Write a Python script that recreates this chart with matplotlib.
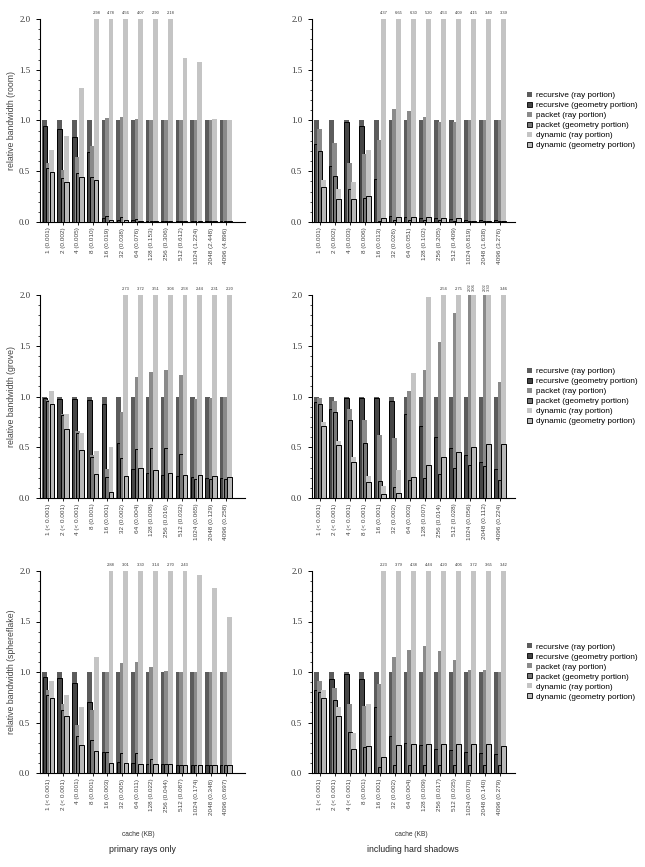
import matplotlib
matplotlib.use("Agg")
import matplotlib.pyplot as plt
from matplotlib.patches import Patch
from matplotlib.ticker import MultipleLocator, FormatStrFormatter

# ---------------- data ----------------
room_p_labels = ["1 (0.001)", "2 (0.002)", "4 (0.005)", "8 (0.010)", "16 (0.019)", "32 (0.038)", "64 (0.076)",
                 "128 (0.153)", "256 (0.306)", "512 (0.612)", "1024 (1.224)", "2048 (2.448)", "4096 (4.896)"]
room_p_rec_ray = [1.0] * 13
room_p_rec_geo = [0.95, 0.92, 0.84, 0.69, 0.04, 0.02, 0.02, 0.01, 0.01, 0.01, 0.01, 0.01, 0.01]
room_p_pkt_ray = [0.58, 0.51, 0.64, 0.75, 1.02, 1.03, 1.01, 1.0, 1.0, 1.0, 1.0, 1.0, 1.0]
room_p_pkt_geo = [0.53, 0.43, 0.48, 0.44, 0.06, 0.05, 0.03, 0.01, 0.01, 0.01, 0.01, 0.01, 0.01]
room_p_dyn_ray = [0.71, 0.85, 1.32, 2.98, 4.78, 4.56, 4.07, 2.90, 2.18, 1.62, 1.58, 1.01, 1.0]
room_p_dyn_geo = [0.49, 0.39, 0.44, 0.41, 0.02, 0.02, 0.01, 0.01, 0.01, 0.01, 0.01, 0.01, 0.01]

room_s_labels = ["1 (0.001)", "2 (0.002)", "4 (0.003)", "8 (0.006)", "16 (0.013)", "32 (0.026)", "64 (0.051)",
                 "128 (0.102)", "256 (0.205)", "512 (0.409)", "1024 (0.819)", "2048 (1.638)", "4096 (3.276)"]
room_s_rec_ray = [1.0] * 13
room_s_rec_geo = [0.77, 0.55, 0.99, 0.95, 0.42, 0.06, 0.05, 0.04, 0.04, 0.03, 0.02, 0.02, 0.02]
room_s_pkt_ray = [0.92, 0.78, 0.58, 0.67, 0.81, 1.11, 1.09, 1.03, 0.99, 0.99, 1.0, 1.0, 1.0]
room_s_pkt_geo = [0.70, 0.45, 0.33, 0.24, 0.01, 0.02, 0.02, 0.02, 0.02, 0.01, 0.01, 0.01, 0.01]
room_s_dyn_ray = [0.41, 0.33, 0.39, 0.71, 4.37, 6.65, 6.30, 5.20, 4.53, 4.09, 4.15, 3.40, 3.39]
room_s_dyn_geo = [0.34, 0.23, 0.23, 0.26, 0.04, 0.05, 0.05, 0.05, 0.04, 0.04, 0.01, 0.01, 0.01]

grove_p_labels = ["1 (< 0.001)", "2 (< 0.001)", "4 (< 0.001)", "8 (0.001)", "16 (0.001)", "32 (0.002)", "64 (0.004)",
                  "128 (0.008)", "256 (0.016)", "512 (0.032)", "1024 (0.065)", "2048 (0.129)", "4096 (0.258)"]
grove_p_rec_ray = [1.0] * 13
grove_p_rec_geo = [0.99, 0.98, 0.98, 0.97, 0.93, 0.54, 0.29, 0.25, 0.23, 0.22, 0.21, 0.20, 0.20]
grove_p_pkt_ray = [0.97, 0.83, 0.66, 0.42, 0.29, 0.85, 1.19, 1.24, 1.26, 1.21, 0.98, 0.99, 1.0]
grove_p_pkt_geo = [0.96, 0.82, 0.64, 0.40, 0.21, 0.39, 0.48, 0.49, 0.49, 0.43, 0.19, 0.19, 0.19]
grove_p_dyn_ray = [1.05, 0.83, 0.64, 0.46, 0.50, 2.73, 3.72, 3.51, 3.04, 2.58, 2.44, 2.31, 2.20]
grove_p_dyn_geo = [0.93, 0.68, 0.47, 0.24, 0.06, 0.22, 0.30, 0.28, 0.25, 0.23, 0.23, 0.22, 0.21]

grove_s_labels = ["1 (< 0.001)", "2 (< 0.001)", "4 (< 0.001)", "8 (< 0.001)", "16 (0.001)", "32 (0.002)", "64 (0.003)",
                  "128 (0.007)", "256 (0.014)", "512 (0.028)", "1024 (0.056)", "2048 (0.112)", "4096 (0.224)"]
grove_s_rec_ray = [1.0] * 13
grove_s_rec_geo = [0.95, 0.88, 0.99, 0.99, 0.99, 0.96, 0.83, 0.71, 0.60, 0.49, 0.42, 0.35, 0.29]
grove_s_pkt_ray = [0.99, 0.96, 0.88, 0.77, 0.62, 0.59, 1.05, 1.26, 1.54, 1.82, 2.02, 2.02, 1.14]
grove_s_pkt_geo = [0.93, 0.85, 0.77, 0.54, 0.17, 0.11, 0.18, 0.20, 0.24, 0.30, 0.33, 0.32, 0.18]
grove_s_dyn_ray = [0.75, 0.56, 0.40, 0.22, 0.12, 0.28, 1.23, 1.98, 2.54, 2.75, 3.06, 3.30, 3.46]
grove_s_dyn_geo = [0.71, 0.52, 0.35, 0.16, 0.04, 0.05, 0.21, 0.33, 0.40, 0.45, 0.50, 0.53, 0.53]

sf_p_labels = ["1 (< 0.001)", "2 (< 0.001)", "4 (0.001)", "8 (0.001)", "16 (0.003)", "32 (0.005)", "64 (0.011)",
               "128 (0.022)", "256 (0.044)", "512 (0.087)", "1024 (0.174)", "2048 (0.348)", "4096 (0.697)"]
sf_p_rec_ray = [1.0] * 13
sf_p_rec_geo = [0.95, 0.94, 0.89, 0.70, 0.21, 0.11, 0.10, 0.09, 0.09, 0.08, 0.08, 0.08, 0.08]
sf_p_pkt_ray = [0.82, 0.68, 0.48, 0.62, 1.0, 1.09, 1.10, 1.05, 1.01, 1.0, 1.0, 1.0, 1.0]
sf_p_pkt_geo = [0.77, 0.62, 0.37, 0.33, 0.21, 0.20, 0.20, 0.14, 0.09, 0.08, 0.08, 0.08, 0.08]
sf_p_dyn_ray = [0.91, 0.77, 0.65, 1.15, 2.88, 3.01, 3.30, 3.14, 2.70, 2.43, 1.96, 1.83, 1.54]
sf_p_dyn_geo = [0.74, 0.56, 0.28, 0.22, 0.10, 0.10, 0.09, 0.09, 0.09, 0.08, 0.08, 0.08, 0.08]

sf_s_labels = ["1 (< 0.001)", "2 (< 0.001)", "4 (< 0.001)", "8 (0.001)", "16 (0.001)", "32 (0.002)", "64 (0.004)",
               "128 (0.009)", "256 (0.017)", "512 (0.035)", "1024 (0.070)", "2048 (0.140)", "4096 (0.279)"]
sf_s_rec_ray = [1.0] * 13
sf_s_rec_geo = [0.82, 0.93, 0.98, 0.93, 0.65, 0.37, 0.30, 0.28, 0.24, 0.23, 0.21, 0.20, 0.19]
sf_s_pkt_ray = [0.91, 0.84, 0.68, 0.66, 0.88, 1.15, 1.22, 1.26, 1.21, 1.12, 1.02, 1.02, 1.0]
sf_s_pkt_geo = [0.80, 0.72, 0.41, 0.26, 0.06, 0.08, 0.08, 0.08, 0.08, 0.08, 0.08, 0.08, 0.08]
sf_s_dyn_ray = [0.82, 0.65, 0.40, 0.68, 2.23, 3.79, 4.38, 4.44, 4.20, 4.06, 3.72, 3.65, 3.42]
sf_s_dyn_geo = [0.74, 0.56, 0.24, 0.27, 0.16, 0.28, 0.29, 0.29, 0.29, 0.29, 0.29, 0.29, 0.27]

series_names = ["recursive (ray portion)", "recursive (geometry portion)", "packet (ray portion)",
                "packet (geometry portion)", "dynamic (ray portion)", "dynamic (geometry portion)"]
row_names = ["relative bandwidth (room)", "relative bandwidth (grove)", "relative bandwidth (sphereflake)"]
col_titles = ["primary rays only", "including hard shadows"]
xlabel_text = "cache (KB)"

# ---------------- style ----------------
ray_colors = ["#5c5c5c", "#8a8a8a", "#c4c4c4"]
geo_colors = ["#454545", "#777777", "#b8b8b8"]
offsets = [-0.23, 0.0, 0.24]
bar_w = 0.33
geo_w = 0.30

panels = [
    [(room_p_labels, room_p_rec_ray, room_p_rec_geo, room_p_pkt_ray, room_p_pkt_geo, room_p_dyn_ray, room_p_dyn_geo),
     (room_s_labels, room_s_rec_ray, room_s_rec_geo, room_s_pkt_ray, room_s_pkt_geo, room_s_dyn_ray, room_s_dyn_geo)],
    [(grove_p_labels, grove_p_rec_ray, grove_p_rec_geo, grove_p_pkt_ray, grove_p_pkt_geo, grove_p_dyn_ray, grove_p_dyn_geo),
     (grove_s_labels, grove_s_rec_ray, grove_s_rec_geo, grove_s_pkt_ray, grove_s_pkt_geo, grove_s_dyn_ray, grove_s_dyn_geo)],
    [(sf_p_labels, sf_p_rec_ray, sf_p_rec_geo, sf_p_pkt_ray, sf_p_pkt_geo, sf_p_dyn_ray, sf_p_dyn_geo),
     (sf_s_labels, sf_s_rec_ray, sf_s_rec_geo, sf_s_pkt_ray, sf_s_pkt_geo, sf_s_dyn_ray, sf_s_dyn_geo)],
]

W, H = 645, 867
fig = plt.figure(figsize=(W / 100, H / 100), dpi=100)

col_px = [(40, 245, -0.56, 13.29), (312, 515, -0.53, 13.0)]
row_px = [(19, 222), (295, 498), (571, 773)]
sans = "Liberation Sans"
serif = "Liberation Serif"
ymax = 2.0

for r, (top, bot) in enumerate(row_px):
    for c, (x0, x1, xl0, xl1) in enumerate(col_px):
        ax = fig.add_axes([x0 / W, 1 - bot / H, (x1 - x0) / W, (bot - top) / H])
        labels, rr, rg, pr, pg, dr, dg = panels[r][c]
        n = len(labels)
        xs = list(range(n))
        rays = [rr, pr, dr]
        geos = [rg, pg, dg]
        for k in range(3):
            xk = [x + offsets[k] for x in xs]
            ax.bar(xk, rays[k], width=bar_w, color=ray_colors[k], edgecolor="none", zorder=2 + 2 * k)
            ax.bar(xk, geos[k], width=geo_w, color=geo_colors[k], edgecolor="black", linewidth=0.7,
                   zorder=3 + 2 * k)
        # value labels for clipped bars
        for i in range(n):
            over = [k for k in (1, 2) if rays[k][i] > ymax]
            if len(over) == 2:
                for k in over:
                    ax.text(i + offsets[k], ymax + 0.035, "%.2f" % rays[k][i], rotation=90,
                            ha="center", va="bottom", fontsize=2.9, family=sans, color="#333333",
                            clip_on=False)
            else:
                for k in over:
                    ax.text(i + offsets[k], ymax + 0.06, "%.2f" % rays[k][i], ha="center", va="center",
                            fontsize=2.9, family=sans, color="#333333", clip_on=False)
        ax.set_xlim(xl0, xl1)
        ax.set_ylim(0, ymax)
        ax.spines["top"].set_visible(False)
        ax.spines["right"].set_visible(False)
        ax.spines["left"].set_linewidth(0.8)
        ax.spines["bottom"].set_linewidth(0.8)
        ax.set_xticks(xs)
        ax.set_xticklabels(labels, rotation=90, fontsize=4.6, family=sans, color="#444444")
        ax.tick_params(axis="x", length=2, width=0.6, pad=2)
        ax.yaxis.set_major_locator(MultipleLocator(0.5))
        ax.yaxis.set_minor_locator(MultipleLocator(0.1))
        ax.yaxis.set_major_formatter(FormatStrFormatter("%.1f"))
        ax.tick_params(axis="y", which="major", length=3, width=0.7, labelsize=6.3, pad=4)
        ax.tick_params(axis="y", which="minor", length=1.5, width=0.5)
        for t in ax.get_yticklabels():
            t.set_family(serif)
            t.set_color("#333333")
        if c == 0:
            fig.text(12 / W, 1 - ((top + bot) / 2) / H, row_names[r], rotation=90, ha="center", va="center",
                     fontsize=6.3, family=sans, color="#444444")
        else:
            handles = []
            for k in range(3):
                handles.append(Patch(facecolor=ray_colors[k], edgecolor="none"))
                handles.append(Patch(facecolor=geo_colors[k], edgecolor="black", linewidth=0.6))
            ax.legend(handles, series_names, loc="center left",
                      bbox_to_anchor=(527 / W, 1 - ((top + bot) / 2) / H), bbox_transform=fig.transFigure,
                      frameon=False, prop={"family": sans, "size": 5.9}, handlelength=0.55, handleheight=0.55,
                      handletextpad=0.5, labelspacing=0.33, borderpad=0, borderaxespad=0)

fig.text(138 / W, 1 - 834 / H, xlabel_text, ha="center", va="center", fontsize=4.8, family=sans, color="#333333")
fig.text(411 / W, 1 - 834 / H, xlabel_text, ha="center", va="center", fontsize=4.8, family=sans, color="#333333")
fig.text(142 / W, 1 - 850 / H, col_titles[0], ha="center", va="center", fontsize=6.3, family=sans, color="#222222")
fig.text(413 / W, 1 - 850 / H, col_titles[1], ha="center", va="center", fontsize=6.3, family=sans, color="#222222")

fig.savefig("out.png", dpi=100, facecolor="white")
